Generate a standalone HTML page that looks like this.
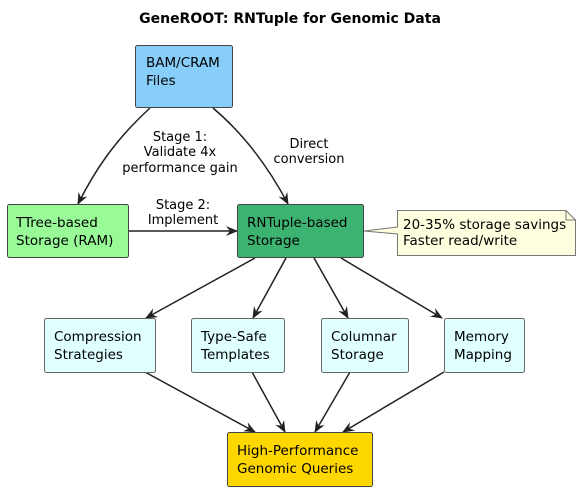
<!DOCTYPE html>
<html><head><meta charset="utf-8"><style>
html,body{margin:0;padding:0;background:#fff;}
text{font-family:"DejaVu Sans","Liberation Sans",sans-serif;font-size:13.5px;fill:#000;}
.e{font-size:13px;}
</style></head><body>
<svg width="581" height="489" viewBox="0 0 581 489" xmlns="http://www.w3.org/2000/svg">
<defs>
<marker id="a" viewBox="0 0 12 10" refX="11" refY="5" markerWidth="12" markerHeight="10" markerUnits="userSpaceOnUse" orient="auto">
<path d="M0,0 L12,5 L0,10 L4,5 Z" fill="#222"/>
</marker>
</defs>
<text x="290" y="23" text-anchor="middle" style="font-weight:bold;font-size:14px">GeneROOT: RNTuple for Genomic Data</text>

<g stroke="#222" stroke-width="1.5" fill="none">
<path d="M150,108 C115,140 95,170 78,204" marker-end="url(#a)"/>
<path d="M213,108 C245,135 270,170 288,204" marker-end="url(#a)"/>
<path d="M129,231 L237,231" marker-end="url(#a)"/>
<path d="M255,258 L146,318" marker-end="url(#a)"/>
<path d="M286,258 L253,318" marker-end="url(#a)"/>
<path d="M314,258 L348,318" marker-end="url(#a)"/>
<path d="M341,258 L442,318" marker-end="url(#a)"/>
<path d="M145,372 L255,432" marker-end="url(#a)"/>
<path d="M252,372 L285,432" marker-end="url(#a)"/>
<path d="M350,372 L315,432" marker-end="url(#a)"/>
<path d="M444,372 L343,432" marker-end="url(#a)"/>
</g>

<rect x="135.5" y="45.5" width="97" height="62" rx="2" fill="#87CEFA" stroke="#444"/>
<text x="146" y="67">BAM/CRAM</text><text x="146" y="85">Files</text>

<rect x="7.5" y="204.5" width="121" height="53" rx="2" fill="#98FB98" stroke="#444"/>
<text x="16" y="227">TTree-based</text><text x="16" y="245">Storage (RAM)</text>

<rect x="237.5" y="204.5" width="126" height="53" rx="2" fill="#3CB371" stroke="#444"/>
<text x="247" y="227">RNTuple-based</text><text x="247" y="245">Storage</text>

<path d="M397.5,210.5 L566,210.5 L575.5,220 L575.5,255.5 L397.5,255.5 L397.5,234 L364,231 L397.5,227 Z" fill="#FFFFE0" stroke="#777"/>
<path d="M566,210.5 L566,220 L575.5,220" fill="none" stroke="#777"/>
<text x="403" y="229">20-35% storage savings</text><text x="403" y="245">Faster read/write</text>

<text class="e" x="180" y="141" text-anchor="middle">Stage 1:</text>
<text class="e" x="180" y="156" text-anchor="middle">Validate 4x</text>
<text class="e" x="180" y="172" text-anchor="middle">performance gain</text>
<text class="e" x="309" y="148" text-anchor="middle">Direct</text>
<text class="e" x="309" y="163" text-anchor="middle">conversion</text>
<text class="e" x="183" y="209" text-anchor="middle">Stage 2:</text>
<text class="e" x="183" y="224" text-anchor="middle">Implement</text>

<g fill="#E0FFFF" stroke="#666">
<rect x="44.5" y="318.5" width="111" height="54" rx="2"/>
<rect x="191.5" y="318.5" width="93" height="54" rx="2"/>
<rect x="321.5" y="318.5" width="87" height="54" rx="2"/>
<rect x="444.5" y="318.5" width="80" height="54" rx="2"/>
</g>
<text x="54" y="341">Compression</text><text x="54" y="359">Strategies</text>
<text x="201" y="341">Type-Safe</text><text x="201" y="359">Templates</text>
<text x="331" y="341">Columnar</text><text x="331" y="359">Storage</text>
<text x="454" y="341">Memory</text><text x="454" y="359">Mapping</text>

<rect x="227.5" y="432.5" width="145" height="54" rx="2" fill="#FFD700" stroke="#444"/>
<text x="237" y="455">High-Performance</text><text x="237" y="473">Genomic Queries</text>
</svg>
</body></html>
